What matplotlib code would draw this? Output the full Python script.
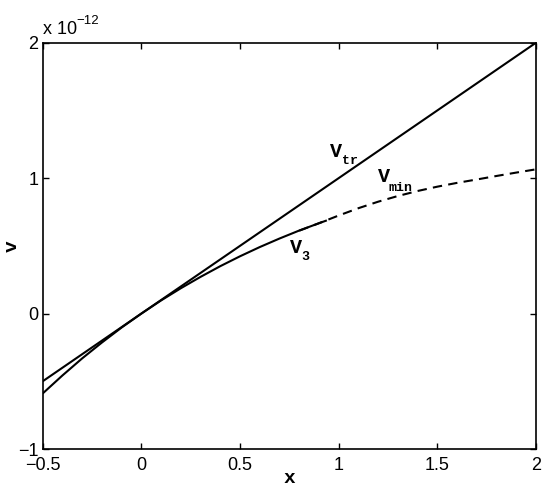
import matplotlib
matplotlib.use("Agg")
import matplotlib.pyplot as plt

# Data (values in units of 1e-12)
x_tr = [-0.5, 2.0]
v_tr = [-0.5, 2.0]

x_3 = [-0.5, -0.4, -0.3, -0.2, -0.1, 0.0, 0.1, 0.2, 0.3, 0.4, 0.5, 0.6, 0.7, 0.8, 0.9, 0.94]
v_3 = [-0.590, -0.457, -0.331, -0.214, -0.103, 0.0, 0.097, 0.187, 0.271, 0.350,
       0.423, 0.491, 0.554, 0.613, 0.667, 0.688]

x_min = [0.80, 0.90, 1.00, 1.10, 1.20, 1.30, 1.40, 1.50, 1.60, 1.70, 1.80, 1.90, 2.00]
v_min = [0.612, 0.667, 0.724, 0.778, 0.826, 0.868, 0.905, 0.937, 0.965, 0.990,
         1.016, 1.041, 1.065]

xticks = [-0.5, 0, 0.5, 1, 1.5, 2]
xticklabels = ["\u22120.5", "0", "0.5", "1", "1.5", "2"]
yticks = [-1, 0, 1, 2]
yticklabels = ["\u22121", "0", "1", "2"]

sans = "Liberation Sans"
mono = "Liberation Mono"

fig = plt.figure(figsize=(5.45, 4.91), dpi=100)
ax = fig.add_axes([42.7 / 545, 1 - 449 / 491, (536 - 42.7) / 545, (449 - 42.7) / 491])

ax.plot(x_tr, v_tr, color="black", lw=1.5, solid_capstyle="butt")
ax.plot(x_3, v_3, color="black", lw=1.5, solid_capstyle="butt")
ax.plot(x_min, v_min, color="black", lw=1.5, linestyle=(0, (4.5, 3.0)), dash_capstyle="butt")

ax.set_xlim(-0.5, 2)
ax.set_ylim(-1, 2)
ax.set_xticks(xticks)
ax.set_xticklabels(xticklabels, fontfamily=sans, fontsize=13)
ax.set_yticks(yticks)
ax.set_yticklabels(yticklabels, fontfamily=sans, fontsize=13)
ax.tick_params(direction="in", length=4, width=1.0, top=True, right=True)
ax.tick_params(axis="x", pad=6)
ax.tick_params(axis="y", pad=3)
for s in ax.spines.values():
    s.set_linewidth(1.2)

ax.set_xlabel("x", fontfamily=mono, fontweight="bold", fontsize=14)
ax.xaxis.set_label_coords(0.5, -0.072)
ax.set_ylabel("v", fontfamily=mono, fontweight="bold", fontsize=14)
ax.yaxis.set_label_coords(-0.062, 0.5)
ax.yaxis.label.set_va("center")
ax.xaxis.label.set_va("center")

# exponent
ax.text(0.0, 1.022, "x 10", transform=ax.transAxes, fontfamily=sans, fontsize=13,
        ha="left", va="baseline")
ax.text(0.068, 1.047, "\u221212", transform=ax.transAxes, fontfamily=sans, fontsize=9.5,
        ha="left", va="baseline")

# curve labels
lab = dict(fontfamily=mono, fontweight="bold", color="black", ha="left", va="baseline")
ax.text(0.957, 1.157, "V", fontsize=14.5, **lab)
ax.text(1.018, 1.105, "tr", fontsize=9.5, **lab)
ax.text(1.199, 0.972, "V", fontsize=14.5, **lab)
ax.text(1.255, 0.905, "min", fontsize=9.5, **lab)
ax.text(0.753, 0.448, "V", fontsize=14.5, **lab)
ax.text(0.812, 0.395, "3", fontsize=9.5, **lab)

fig.savefig("out.png", dpi=100)
